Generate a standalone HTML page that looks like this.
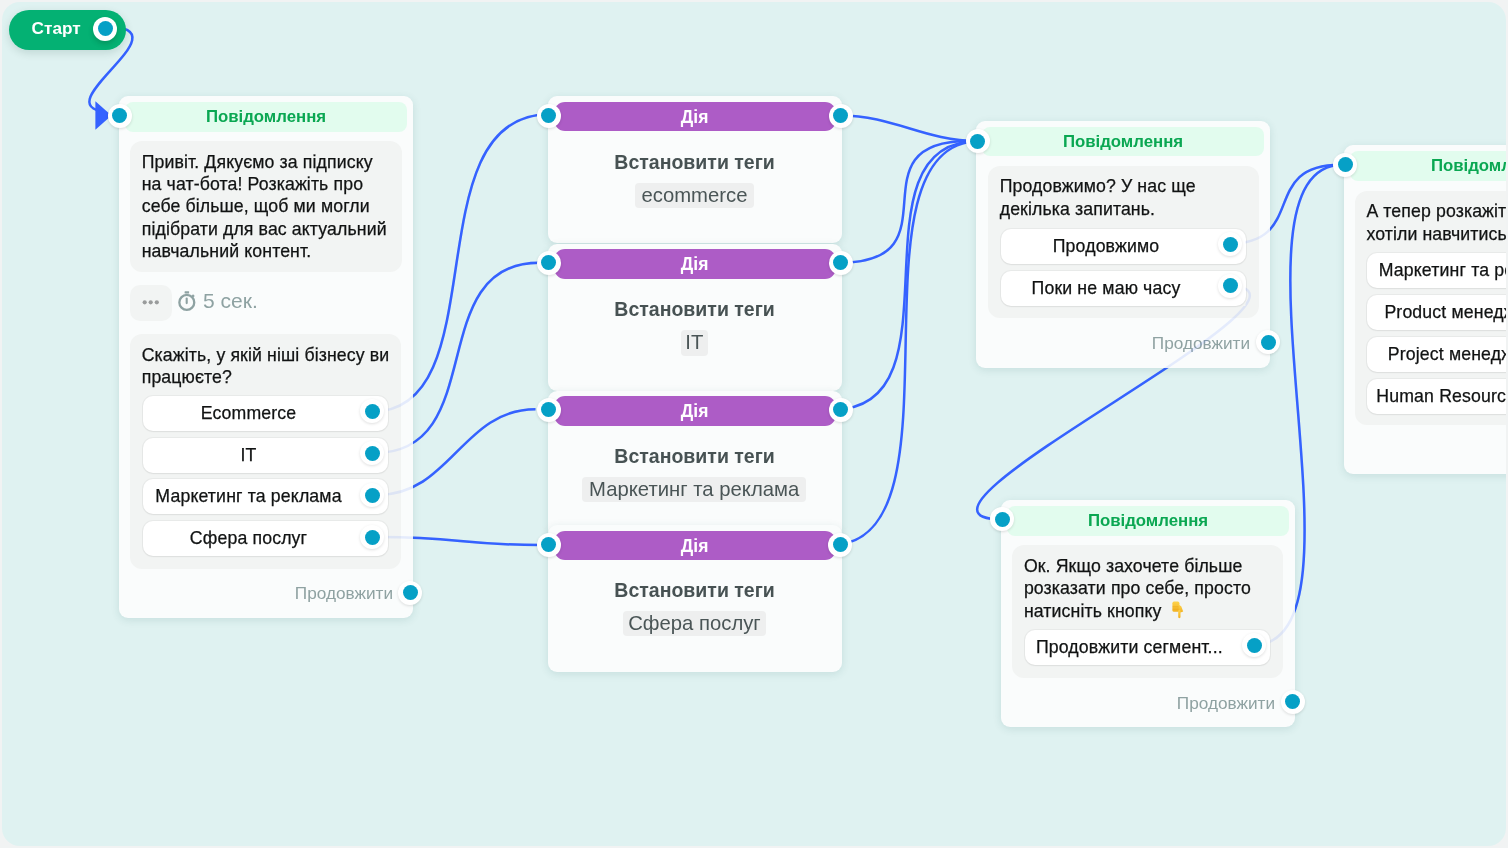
<!DOCTYPE html>
<html><head><meta charset="utf-8">
<style>
*{box-sizing:border-box;margin:0;padding:0}
html,body{width:1508px;height:848px;overflow:hidden;background:#f1f3f3;font-family:"Liberation Sans",sans-serif;color:#1b1d1d}
#cv{position:absolute;left:2px;top:2px;width:1504px;height:844px;border-radius:18px;background:#dff2f1;overflow:hidden}
.abs{position:absolute}
svg.edges{position:absolute;left:-2px;top:-2px;width:1508px;height:848px;overflow:visible}
.lay{position:absolute;left:-2px;top:-2px;width:1508px;height:848px}
.card{position:absolute;width:294px;background:#fafcfc;border-radius:9px;box-shadow:0 2px 8px rgba(20,80,80,.12)}
.hdr{position:absolute;left:6px;top:6px;width:282px;height:29.5px;border-radius:8px;background:#e2fcee;color:#0aa752;font-weight:bold;font-size:16.8px;text-align:center;line-height:30.8px}
.bub{position:absolute;background:#f2f4f3;border-radius:12px;font-size:17.7px;line-height:22.3px;letter-spacing:0.12px;color:#111313;-webkit-text-stroke:0.25px #111313;padding:9.8px 0 0 11.7px;white-space:nowrap}
.btn{position:absolute;width:245px;height:35px;background:#fff;border-radius:10px;box-shadow:0 0 0 1px rgba(0,0,0,.04),0 1px 2px rgba(0,0,0,.05);font-size:17.7px;line-height:35px;text-align:center;padding-right:34px;white-space:nowrap;overflow:hidden;letter-spacing:0.15px;color:#111313;-webkit-text-stroke:0.25px #111313}
.cont{position:absolute;color:#8fa2a2;font-size:17.2px;white-space:nowrap;line-height:20px}
.act{position:absolute;width:294px;height:147px;background:#fafcfc;border-radius:9px;box-shadow:0 2px 8px rgba(20,80,80,.12)}
.ahdr{position:absolute;left:6px;top:5.7px;width:282px;height:29.5px;border-radius:11px;background:#ad5cc6;color:#fff;font-weight:bold;font-size:17.5px;text-align:center;line-height:30px}
.atitle{position:absolute;left:0;top:55.3px;width:294px;text-align:center;font-weight:bold;font-size:19.5px;line-height:21.4px;color:#475253;white-space:nowrap}
.chip{position:absolute;height:25.4px;background:#eeefef;border-radius:4px;font-size:20.3px;line-height:25px;color:#4a5556;text-align:center;white-space:nowrap}
.h{position:absolute;width:24px;height:24px;margin:-12px 0 0 -12px;border-radius:50%;background:#fff;box-shadow:0 1px 3px rgba(0,0,0,.13)}
.h::after{content:"";position:absolute;left:4.5px;top:4.5px;width:15px;height:15px;border-radius:50%;background:#06a0c6}
</style></head><body>
<div id="cv">
<svg class="edges" viewBox="0 0 1508 848" fill="none" stroke="#3562ff" stroke-width="2.5">
<clipPath id="sc"><path clip-rule="evenodd" d="M0,0H1508V848H0Z M100,100H118V126H100Z"/></clipPath><path clip-path="url(#sc)" d="M104.1,26.3 C195.2,26.3 30.0,112.0 114.0,112.0"/>
<path d="M372.2,411.7 C498.8,411.7 411.4,114.2 549.4,114.2"/>
<path d="M374.0,453.1 C491.0,453.1 422.4,262.7 539.4,262.7"/>
<path d="M377.4,495.0 C450.5,495.0 462.4,409.3 535.5,409.3"/>
<path d="M380.0,537.0 C460.0,537.0 460.5,545.0 540.5,545.0"/>
<path d="M840.5,115.5 C893.9,115.5 924.1,141.0 977.5,141.0"/>
<path d="M840.0,262.7 C959.5,262.7 849.1,141.0 968.6,141.0"/>
<path d="M833.9,409.5 C965.6,409.5 845.9,141.0 977.6,141.0"/>
<path d="M831.2,545.0 C972.5,545.0 838.8,141.0 980.1,141.0"/>
<path d="M1226.8,244.0 C1309.3,244.0 1257.9,164.7 1340.4,164.7"/>
<path d="M1225.0,285.5 C1364.9,285.5 862.1,519.4 1002.0,519.4"/>
<path d="M1252.2,645.4 C1382.1,645.4 1212.8,164.7 1342.7,164.7"/>
</svg>

<div class="lay" id="cards" style="will-change:transform">
<!-- Start pill -->
<div class="abs" style="left:9px;top:10px;width:117px;height:40px;border-radius:20px;background:#04b173;box-shadow:0 3px 8px rgba(0,60,40,.14)">
  <div class="abs" style="left:22.6px;top:-1.8px;line-height:40px;color:#fff;font-weight:bold;font-size:17.2px">Старт</div>
</div>

<!-- Message card 1 -->
<div class="card" style="left:119px;top:96px;height:522px">
  <div class="hdr">Повідомлення</div>
  <div class="bub" style="left:11px;top:45px;width:272px;height:131px">Привіт. Дякуємо за підписку<br>на чат-бота! Розкажіть про<br>себе більше, щоб ми могли<br>підібрати для вас актуальний<br>навчальний контент.</div>
  <div class="abs" style="left:11px;top:189px;width:42px;height:36px;border-radius:10px;background:#f2f4f3"></div>
  <svg class="abs" style="left:0;top:0;overflow:visible" width="294" height="300">
    <g fill="#9a9c9c"><circle cx="25.7" cy="206.3" r="2.1"/><circle cx="31.7" cy="206.3" r="2.1"/><circle cx="37.8" cy="206.3" r="2.1"/></g>
    <g stroke="#8ea2a2" fill="none" stroke-width="2.3"><circle cx="67.8" cy="206.4" r="7.45"/><path d="M67.7,202.6 V207.1" stroke-linecap="round" stroke-width="2.1"/><path d="M73.0,201.0 L74.9,199.1" stroke-width="2.4"/></g><rect x="65.6" y="195.2" width="4.5" height="2.4" rx=".5" fill="#8ea2a2"/>
  </svg>
  <div class="abs" style="left:84px;top:193.8px;font-size:21px;line-height:22px;color:#8ea2a2;white-space:nowrap">5 сек.</div>
  <div class="bub" style="left:11px;top:238px;width:271px;height:235px">Скажіть, у якій ніші бізнесу ви<br>працюєте?</div>
  <div class="btn" style="left:24px;top:300.2px">Ecommerce</div>
  <div class="btn" style="left:24px;top:341.8px">IT</div>
  <div class="btn" style="left:24px;top:383.4px">Маркетинг та реклама</div>
  <div class="btn" style="left:24px;top:425px">Сфера послуг</div>
  <div class="cont" style="right:20px;top:486.9px">Продовжити</div>
</div>

<!-- Action cards -->
<div class="act" style="left:547.6px;top:96.3px"><div class="ahdr">Дія</div><div class="atitle">Встановити теги</div><div class="chip" style="left:87.7px;width:118.4px;top:86.8px">ecommerce</div></div>
<div class="act" style="left:547.6px;top:243.5px"><div class="ahdr">Дія</div><div class="atitle">Встановити теги</div><div class="chip" style="left:133px;width:27.4px;top:86.8px">IT</div></div>
<div class="act" style="left:547.6px;top:390.5px"><div class="ahdr">Дія</div><div class="atitle">Встановити теги</div><div class="chip" style="left:34.7px;width:223.7px;top:86.4px">Маркетинг та реклама</div></div>
<div class="act" style="left:547.6px;top:525px;height:146.5px"><div class="ahdr">Дія</div><div class="atitle">Встановити теги</div><div class="chip" style="left:75.6px;width:142.6px;top:85.9px">Сфера послуг</div></div>

<!-- Message card 3 -->
<div class="card" style="left:976px;top:120.5px;height:247px">
  <div class="hdr">Повідомлення</div>
  <div class="bub" style="left:12px;top:45.2px;width:271px;height:152.3px">Продовжимо? У нас ще<br>декілька запитань.</div>
  <div class="btn" style="left:24.5px;top:108.3px">Продовжимо</div>
  <div class="btn" style="left:24.5px;top:150.4px">Поки не маю часу</div>
  <div class="cont" style="right:20px;top:212.6px">Продовжити</div>
</div>

<!-- Message card 5 -->
<div class="card" style="left:1001px;top:500.3px;height:227px">
  <div class="hdr">Повідомлення</div>
  <div class="bub" style="left:11.2px;top:45.1px;width:271.3px;height:132.4px">Ок. Якщо захочете більше<br>розказати про себе, просто<br>натисніть кнопку</div>
  <svg class="abs" style="left:171px;top:101px" width="12" height="18" viewBox="1172 601 12 18"><defs><linearGradient id="eg" x1="0" y1="0" x2="0" y2="1"><stop offset="0" stop-color="#fdd24c"/><stop offset="1" stop-color="#f2b122"/></linearGradient></defs><g fill="url(#eg)"><rect x="1172.4" y="601.6" width="7" height="10.2" rx="1.6"/><path d="M1178.6,604.5 L1181.2,606.3 L1183.2,611.4 L1180.6,612.6 L1178.8,611.4 Z"/><rect x="1178.2" y="610" width="2.3" height="8.2" rx="1.1"/></g><path d="M1172.6,606.8 H1178.6 M1172.6,609.2 H1178.6" stroke="#e9a51a" stroke-width=".6"/></svg>
  <div class="btn" style="left:23.9px;top:129.7px;text-align:left;padding-left:11px">Продовжити сегмент...</div>
  <div class="cont" style="right:20px;top:192.8px">Продовжити</div>
</div>

<!-- Message card 6 -->
<div class="card" style="left:1344px;top:145px;height:329px">
  <div class="hdr">Повідомлення</div>
  <div class="bub" style="left:10.7px;top:45.7px;width:272px;height:234.5px">А тепер розкажіть, чого б ви<br>хотіли навчитись?</div>
  <div class="btn" style="left:23.4px;top:108.2px;padding-right:36px">Маркетинг та реклама</div>
  <div class="btn" style="left:23.4px;top:149.8px;padding-right:39.2px">Product менеджмент</div>
  <div class="btn" style="left:23.4px;top:191.9px;padding-right:38.4px">Project менеджмент</div>
  <div class="btn" style="left:23.4px;top:233.5px;padding-right:35.4px">Human Resources (HR)</div>
</div>
</div>

<svg class="edges" viewBox="0 0 1508 848" fill="none" stroke="#3562ff" stroke-opacity=".11" stroke-width="2.5">
<clipPath id="fc"><path clip-rule="evenodd" d="M0,0H1508V848H0Z M143,396.2H388V431.2H143Z M143,437.8H388V472.8H143Z M143,479.4H388V514.4H143Z M143,521H388V556H143Z M1000.5,228.8H1245.5V263.8H1000.5Z M1000.5,270.9H1245.5V305.9H1000.5Z M1024.9,630H1270.2V665H1024.9Z"/></clipPath>
<g clip-path="url(#fc)">
<path d="M372.2,411.7 C498.8,411.7 411.4,114.2 549.4,114.2"/>
<path d="M374.0,453.1 C491.0,453.1 422.4,262.7 539.4,262.7"/>
<path d="M377.4,495.0 C450.5,495.0 462.4,409.3 535.5,409.3"/>
<path d="M380.0,537.0 C460.0,537.0 460.5,545.0 540.5,545.0"/>
<path d="M1226.8,244.0 C1309.3,244.0 1257.9,164.7 1340.4,164.7"/>
<path d="M1225.0,285.5 C1364.9,285.5 862.1,519.4 1002.0,519.4"/>
<path d="M1252.2,645.4 C1382.1,645.4 1212.8,164.7 1342.7,164.7"/>
</g>
</svg>

<div class="lay" id="handles">
<svg class="abs" style="left:0;top:0" width="1508" height="848"><path d="M95.4,101.2 L111.5,115.5 L95.4,129.8 Z" fill="#3562ff"/></svg>
<div class="h" style="left:105.4px;top:28.6px;box-shadow:0 3px 5px rgba(0,60,30,.22)"></div>
<div class="h" style="left:119.8px;top:115.5px"></div>
<div class="h" style="left:372.4px;top:411.3px"></div>
<div class="h" style="left:372.4px;top:453.1px"></div>
<div class="h" style="left:372.4px;top:495px"></div>
<div class="h" style="left:372.4px;top:537px"></div>
<div class="h" style="left:410.4px;top:592.8px"></div>
<div class="h" style="left:548.5px;top:115.5px"></div>
<div class="h" style="left:840.5px;top:115.5px"></div>
<div class="h" style="left:548.5px;top:262.7px"></div>
<div class="h" style="left:840.5px;top:262.7px"></div>
<div class="h" style="left:548.5px;top:409.5px"></div>
<div class="h" style="left:840.5px;top:409.5px"></div>
<div class="h" style="left:548.5px;top:544.6px"></div>
<div class="h" style="left:840.3px;top:544.6px"></div>
<div class="h" style="left:977.5px;top:141px"></div>
<div class="h" style="left:1230px;top:244px"></div>
<div class="h" style="left:1230px;top:285.5px"></div>
<div class="h" style="left:1268.4px;top:342px"></div>
<div class="h" style="left:1002px;top:519.4px"></div>
<div class="h" style="left:1254px;top:645.4px"></div>
<div class="h" style="left:1292.6px;top:701.7px"></div>
<div class="h" style="left:1345px;top:164.7px"></div>
</div>
</div>
</body></html>
